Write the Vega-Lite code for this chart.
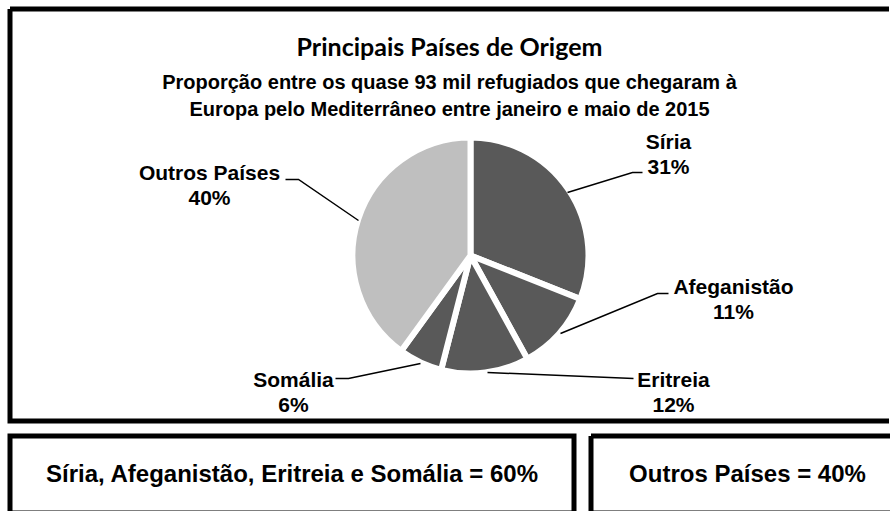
{
  "$schema": "https://vega.github.io/schema/vega-lite/v6.json",
  "background": "white",
  "padding": {"left": 7, "top": 6, "right": 0, "bottom": 0},
  "config": {
    "view": {"stroke": "black", "strokeWidth": 5, "cornerRadius": 0},
    "font": "Liberation Sans",
    "text": {"font": "Liberation Sans", "fontWeight": "bold", "fontSize": 21, "color": "black"}
  },
  "datasets": {
    "paises": [
      {"pais": "Síria", "valor": 31, "ordem": 1, "grupo": "Principais", "rotulo": ["Síria", "31%"]},
      {"pais": "Afeganistão", "valor": 11, "ordem": 2, "grupo": "Principais", "rotulo": ["Afeganistão", "11%"]},
      {"pais": "Eritreia", "valor": 12, "ordem": 3, "grupo": "Principais", "rotulo": ["Eritreia", "12%"]},
      {"pais": "Somália", "valor": 6, "ordem": 4, "grupo": "Principais", "rotulo": ["Somália", "6%"]},
      {"pais": "Outros Países", "valor": 40, "ordem": 5, "grupo": "Outros", "rotulo": ["Outros Países", "40%"]}
    ]
  },
  "spacing": 9,
  "vconcat": [
    {
      "width": 879,
      "height": 412,
      "view": {"stroke": "black", "strokeWidth": 5, "cornerRadius": 0, "strokeDash": [879, 412, 1291, 0]},
      "title": {
        "text": "Principais Países de Origem",
        "subtitle": ["Proporção entre os quase 93 mil refugiados que chegaram à", "Europa pelo Mediterrâneo entre janeiro e maio de 2015"],
        "anchor": "middle",
        "frame": "group",
        "font": "Lato",
        "fontSize": 25,
        "fontWeight": "bold",
        "color": "black",
        "subtitleFont": "Liberation Sans",
        "subtitleFontSize": 20,
        "subtitleFontWeight": "bold",
        "subtitleColor": "black",
        "subtitleLineHeight": 27,
        "subtitlePadding": 12,
        "offset": -111
      },
      "data": {"name": "paises"},
      "layer": [
        {
          "mark": {"type": "arc", "outerRadius": 118, "stroke": "white", "strokeWidth": 6, "xOffset": 21, "yOffset": 40.5},
          "encoding": {
            "theta": {"field": "valor", "type": "quantitative", "stack": true},
            "order": {"field": "ordem", "type": "quantitative"},
            "color": {"field": "grupo", "type": "nominal", "scale": {"domain": ["Principais", "Outros"], "range": ["#595959", "#bfbfbf"]}, "legend": null}
          }
        },
        {
          "mark": {"type": "point", "size": 4, "filled": false, "stroke": "black", "strokeWidth": 1.5, "opacity": 1, "xOffset": 20, "yOffset": 40.5},
          "encoding": {
            "shape": {"field": "pais", "type": "nominal", "legend": null, "scale": {
              "domain": ["Síria", "Afeganistão", "Eritreia", "Somália", "Outros Países"],
              "range": ["M98,-63L163,-83L173,-83", "M91,78L188,38L199,38", "M18,117L164,123", "M-49,108L-121,123L-134,123", "M-111,-35L-171,-76L-184,-76"]
            }}
          }
        },
        {
          "transform": [{"filter": "datum.pais === 'Síria'"}],
          "mark": {"type": "text", "lineHeight": 25, "baseline": "middle", "xOffset": 20, "yOffset": 40.5, "dx": 199, "dy": -113},
          "encoding": {"text": {"field": "rotulo"}}
        },
        {
          "transform": [{"filter": "datum.pais === 'Afeganistão'"}],
          "mark": {"type": "text", "lineHeight": 25, "baseline": "middle", "xOffset": 20, "yOffset": 40.5, "dx": 264, "dy": 32.5},
          "encoding": {"text": {"field": "rotulo"}}
        },
        {
          "transform": [{"filter": "datum.pais === 'Eritreia'"}],
          "mark": {"type": "text", "lineHeight": 25, "baseline": "middle", "xOffset": 20, "yOffset": 40.5, "dx": 204, "dy": 125},
          "encoding": {"text": {"field": "rotulo"}}
        },
        {
          "transform": [{"filter": "datum.pais === 'Somália'"}],
          "mark": {"type": "text", "lineHeight": 25, "baseline": "middle", "xOffset": 20, "yOffset": 40.5, "dx": -176, "dy": 125},
          "encoding": {"text": {"field": "rotulo"}}
        },
        {
          "transform": [{"filter": "datum.pais === 'Outros Países'"}],
          "mark": {"type": "text", "lineHeight": 25, "baseline": "middle", "xOffset": 20, "yOffset": 40.5, "dx": -260, "dy": -82},
          "encoding": {"text": {"field": "rotulo"}}
        }
      ]
    },
    {
      "spacing": 11,
      "hconcat": [
        {
          "width": 564,
          "height": 77,
          "view": {"stroke": "black", "strokeWidth": 5, "cornerRadius": 0},
          "data": {"values": [{"resumo": "Síria, Afeganistão, Eritreia e Somália = 60%"}]},
          "mark": {"type": "text", "baseline": "middle", "fontSize": 24},
          "encoding": {"text": {"field": "resumo"}}
        },
        {
          "width": 299,
          "height": 77,
          "view": {"stroke": "black", "strokeWidth": 5, "cornerRadius": 0, "strokeDash": [299, 77, 376, 0]},
          "data": {"values": [{"resumo": "Outros Países = 40%"}]},
          "mark": {"type": "text", "baseline": "middle", "fontSize": 24, "dx": 7},
          "encoding": {"text": {"field": "resumo"}}
        }
      ]
    }
  ]
}
